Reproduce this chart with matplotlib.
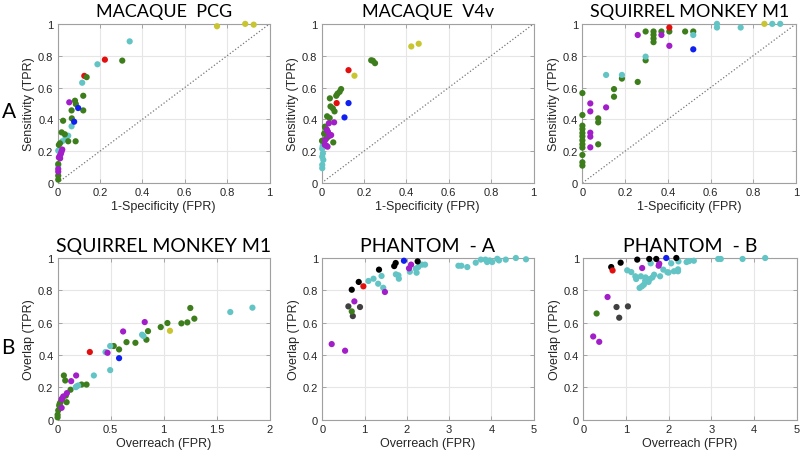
import matplotlib
matplotlib.use('Agg')
import matplotlib.pyplot as plt

# colours of the groups
colors = {'green': '#3d7d1c', 'cyan': '#62c4c4', 'magenta': '#a21ec8', 'red': '#e30f0f',
          'blue': '#1020f0', 'yellow': '#c9c530', 'black': '#000000', 'darkgray': '#404040'}

# row A: ROC points (FPR, TPR)
pcg = {
    'yellow': ([0.752, 0.885, 0.925], [0.985, 1.0, 0.995]),
    'cyan': ([0.34, 0.188, 0.116, 0.066, 0.05, 0.038, 0.022, 0.003, 0.003],
             [0.89, 0.746, 0.63, 0.356, 0.297, 0.287, 0.262, 0.203, 0.11]),
    'red': ([0.223, 0.126], [0.775, 0.673]),
    'green': ([0.305, 0.137, 0.121, 0.121, 0.082, 0.086, 0.066, 0.067, 0.026, 0.019, 0.034, 0.05, 0.085,
               0.011, 0.006, 0.003, 0.003, 0.003],
              [0.769, 0.665, 0.548, 0.456, 0.517, 0.496, 0.456, 0.406, 0.391, 0.318, 0.306, 0.262, 0.262,
               0.249, 0.239, 0.119, 0.046, 0.021]),
    'blue': ([0.097, 0.078], [0.471, 0.385]),
    'magenta': ([0.055, 0.022, 0.018, 0.015, 0.01, 0.006, 0.012, 0.003, 0.003],
                [0.507, 0.21, 0.195, 0.182, 0.17, 0.16, 0.155, 0.088, 0.071]),
}

v4v = {
    'cyan': ([0.008, 0.003, 0.006, 0.003, 0.008, 0.003, 0.003, 0.005],
             [0.245, 0.215, 0.186, 0.165, 0.145, 0.114, 0.093, 0.23]),
    'green': ([0.234, 0.242, 0.252, 0.092, 0.085, 0.075, 0.069, 0.039, 0.042, 0.053, 0.061, 0.026, 0.038,
               0.017, 0.022, 0.012, 0.002, 0.055, 0.016, 0.023, 0.02, 0.028],
              [0.771, 0.768, 0.753, 0.59, 0.573, 0.561, 0.548, 0.532, 0.481, 0.469, 0.45, 0.419, 0.408,
               0.35, 0.28, 0.31, 0.265, 0.255, 0.354, 0.333, 0.308, 0.288]),
    'magenta': ([0.059, 0.034, 0.025, 0.03, 0.045, 0.038, 0.017, 0.015, 0.028, 0.022],
                [0.381, 0.375, 0.335, 0.322, 0.301, 0.297, 0.27, 0.24, 0.228, 0.235]),
    'yellow': ([0.423, 0.458, 0.155], [0.858, 0.875, 0.674]),
    'red': ([0.127, 0.071], [0.709, 0.502]),
    'blue': ([0.127, 0.108], [0.502, 0.412]),
}

sqm_roc = {
    'green': ([0.407, 0.481, 0.519, 0.37, 0.333, 0.333, 0.333, 0.333, 0.296, 0.296, 0.185, 0.259, 0.148,
               0.148, 0, 0, 0.074, 0.074, 0.074, 0, 0, 0, 0, 0, 0, 0, 0, 0, 0],
              [0.952, 0.952, 0.952, 0.952, 0.952, 0.931, 0.908, 0.885, 0.952, 0.771, 0.656, 0.635, 0.59,
               0.542, 0.565, 0.427, 0.406, 0.381, 0.243, 0.36, 0.339, 0.314, 0.293, 0.268, 0.243, 0.222,
               0.176, 0.13, 0.109]),
    'cyan': ([0.889, 0.926, 0.741, 0.63, 0.63, 0.519, 0.296, 0.111, 0.185],
             [1.0, 1.0, 0.977, 1.0, 0.977, 0.93, 0.794, 0.679, 0.679]),
    'magenta': ([0.407, 0.37, 0.259, 0.037, 0.037, 0.111, 0.037, 0.037, 0.037],
                [0.862, 0.93, 0.93, 0.5, 0.45, 0.475, 0.316, 0.291, 0.224]),
    'yellow': ([0.852], [1.0]),
    'red': ([0.407], [0.977]),
    'blue': ([0.519], [0.84]),
}

# row B: overlap vs overreach
sqm_ovl = {
    'green': ([1.252, 1.29, 1.224, 1.168, 1.036, 0.973, 0.853, 0.838, 0.65, 0.734, 0.53, 0.58, 0.059, 0.072,
               0.273, 0.226, 0.122, 0.078, 0.028, 0.085, 0.015, 0.006, 0.0, 0.0, 0.04, 0.02],
              [0.691, 0.625, 0.602, 0.596, 0.598, 0.573, 0.548, 0.495, 0.48, 0.476, 0.456, 0.435, 0.274, 0.243,
               0.218, 0.218, 0.186, 0.15, 0.109, 0.109, 0.088, 0.058, 0.031, 0.015, 0.13, 0.1]),
    'cyan': ([1.629, 1.838, 0.797, 0.81, 0.496, 0.452, 0.496, 0.342, 0.194, 0.172, 0.18],
             [0.666, 0.693, 0.526, 0.518, 0.456, 0.419, 0.307, 0.274, 0.212, 0.202, 0.207]),
    'magenta': ([0.822, 0.618, 0.471, 0.175, 0.128, 0.088, 0.053, 0.038, 0.038],
                [0.604, 0.546, 0.414, 0.274, 0.239, 0.165, 0.144, 0.126, 0.074]),
    'red': ([0.304], [0.419]),
    'blue': ([0.58], [0.381]),
    'yellow': ([1.06], [0.55]),
}

phantom_a = {
    'cyan': ([1.09, 1.21, 1.40, 1.32, 1.44, 1.74, 1.80, 1.81, 2.07, 2.21, 2.23, 2.27, 2.36, 2.43, 3.22, 3.29,
              3.43, 3.63, 3.75, 3.86, 3.90, 3.96, 4.02, 4.14, 4.18, 4.34, 4.58, 4.82],
             [0.858, 0.872, 0.889, 0.841, 0.816, 0.899, 0.893, 0.872, 0.915, 0.934, 0.909, 0.944, 0.959, 0.959,
              0.952, 0.952, 0.944, 0.971, 0.99, 0.99, 0.975, 0.985, 0.975, 0.995, 0.985, 0.99, 1.0, 0.992]),
    'magenta': ([0.22, 0.537, 0.757, 1.48, 2.05, 2.10], [0.468, 0.427, 0.732, 0.79, 0.936, 0.959]),
    'darkgray': ([0.615, 0.89, 0.72], [0.701, 0.697, 0.641]),
    'green': ([0.695], [0.67]),
    'black': ([0.695, 0.86, 1.34, 1.70, 1.735, 2.255], [0.804, 0.852, 0.928, 0.95, 0.969, 0.979]),
    'red': ([0.97], [0.825]),
    'blue': ([1.93], [0.983]),
}

phantom_b = {
    'cyan': ([1.03, 1.125, 1.22, 1.24, 1.35, 1.375, 1.42, 1.46, 1.5, 1.53, 1.56, 1.66, 1.58, 1.8, 1.875, 1.97,
              2.06, 2.125, 2.22, 2.23, 2.42, 2.48, 2.59, 3.16, 3.22, 3.73, 4.26, 1.32, 1.45, 1.62, 2.0, 2.22],
             [0.924, 0.913, 0.887, 0.87, 0.887, 0.825, 0.835, 0.88, 0.866, 0.852, 0.87, 0.897, 0.967, 0.887,
              0.928, 0.912, 0.967, 0.918, 0.918, 0.979, 0.975, 0.981, 0.983, 0.994, 0.994, 0.994, 1.0, 0.815,
              0.86, 0.88, 0.91, 0.93]),
    'magenta': ([1.38, 1.78, 1.766, 0.57, 0.234, 0.375], [0.938, 0.965, 0.952, 0.759, 0.515, 0.482]),
    'darkgray': ([0.78, 1.047, 0.843], [0.697, 0.701, 0.631]),
    'green': ([0.314], [0.657]),
    'black': ([0.656, 0.876, 1.265, 1.546, 1.71, 2.18], [0.944, 0.971, 0.99, 0.994, 0.994, 1.0]),
    'red': ([0.688], [0.923]),
    'blue': ([1.944], [1.0]),
}

plt.rcParams['font.family'] = ['Liberation Sans', 'DejaVu Sans']
fig = plt.figure(figsize=(8, 4.52), dpi=100)

panels = [
    (pcg, 'MACAQUE  PCG', [0.072, 0.593, 0.265, 0.352], 1, 'A'),
    (v4v, 'MACAQUE  V4v', [0.402, 0.593, 0.265, 0.352], 1, None),
    (sqm_roc, 'SQUIRREL MONKEY M1', [0.728, 0.593, 0.267, 0.352], 1, None),
    (sqm_ovl, 'SQUIRREL MONKEY M1', [0.072, 0.069, 0.265, 0.358], 2, 'B'),
    (phantom_a, 'PHANTOM  - A', [0.403, 0.069, 0.264, 0.358], 5, None),
    (phantom_b, 'PHANTOM  - B', [0.729, 0.069, 0.267, 0.358], 5, None),
]

for data, title, pos, xmax, letter in panels:
    ax = fig.add_axes(pos)
    ax.grid(True, color='#e6e6e6', linewidth=0.8)
    ax.set_axisbelow(True)
    if xmax == 1:
        ax.plot([0, 1], [0, 1], linestyle=':', color='#777777', linewidth=0.9)
    for c, (xs, ys) in data.items():
        ax.scatter(xs, ys, s=20, color=colors[c], edgecolors='none', zorder=3, clip_on=False)
    ax.set_xlim(0, xmax)
    ax.set_ylim(0, 1)
    if xmax == 1:
        ax.set_xticks([0, 0.2, 0.4, 0.6, 0.8, 1])
        ax.set_xticklabels(['0', '0.2', '0.4', '0.6', '0.8', '1'])
        ax.set_xlabel('1-Specificity (FPR)', fontsize=9, labelpad=2, color='#262626')
        ax.set_ylabel('Sensitivity (TPR)', fontsize=9, labelpad=2, color='#262626')
        ax.set_title(title, fontsize=13, family='Lato', pad=6)
    else:
        if xmax == 2:
            ax.set_xticks([0, 0.5, 1, 1.5, 2])
            ax.set_xticklabels(['0', '0.5', '1', '1.5', '2'])
        else:
            ax.set_xticks(range(6))
        ax.set_xlabel('Overreach (FPR)', fontsize=9, labelpad=2, color='#262626')
        ax.set_ylabel('Overlap (TPR)', fontsize=9, labelpad=2, color='#262626')
        ax.set_title(title, fontsize=14, family='Lato', pad=5)
    ax.set_yticks([0, 0.2, 0.4, 0.6, 0.8, 1])
    ax.set_yticklabels(['0', '0.2', '0.4', '0.6', '0.8', '1'])
    ax.tick_params(direction='in', length=3, width=0.6, color='#999999', labelsize=8,
                   labelcolor='#262626', top=True, right=True, pad=3)
    for sp in ax.spines.values():
        sp.set_color('#a0a0a0')
        sp.set_linewidth(0.8)
    if letter:
        fig.text(0.002, pos[1] + pos[3] * 0.45, letter, fontsize=15, family='Lato', va='center', ha='left')

fig.savefig('out.png', dpi=100)
